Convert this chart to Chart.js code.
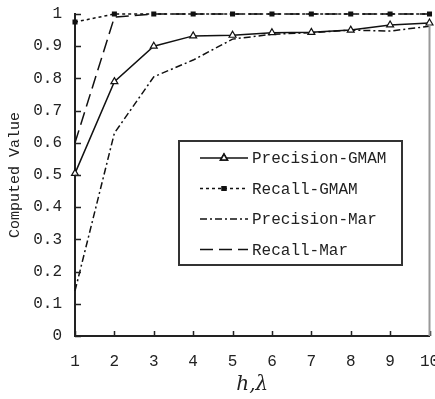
<!DOCTYPE html>
<html lang="en">

<head>
  <meta charset="UTF-8">
  <title> Computed Value </title>
  <style>
    body { margin: 0; background: #fff; }
    #grafico { display: block; }
  </style>
</head>

<body>
  <canvas id="grafico" width="435" height="399"></canvas>
  <script src="https://cdn.jsdelivr.net/npm/chart.js"></script>
  <script>

    // valores
    const xLabels = ['1', '2', '3', '4', '5', '6', '7', '8', '9', '10']
    const yTickLabels = ['0', '0.1', '0.2', '0.3', '0.4', '0.5', '0.6', '0.7', '0.8', '0.9', '1']
    const precisionGMAM = [0.505, 0.79, 0.90, 0.932, 0.934, 0.942, 0.943, 0.95, 0.966, 0.972]
    const recallGMAM = [0.975, 1, 1, 1, 1, 1, 1, 1, 1, 1]
    const precisionMar = [0.14, 0.63, 0.805, 0.857, 0.922, 0.937, 0.942, 0.95, 0.947, 0.962]
    const recallMar = [0.6, 0.99, 1, 1, 1, 1, 1, 1, 1, 1]

    const fonte = 'Liberation Mono'

    // ticks pra dentro + borda cinza da direita
    const ticksInternos = {
      id: 'ticksInternos',
      afterDraw(chart) {
        const { ctx, chartArea: a, scales: { x, y } } = chart
        ctx.save()
        ctx.strokeStyle = '#222'
        ctx.lineWidth = 1.5
        ctx.beginPath()
        y.ticks.forEach(function (t, i) {
          const py = Math.round(y.getPixelForTick(i)) + 0.5
          ctx.moveTo(a.left, py)
          ctx.lineTo(a.left + 6, py)
        })
        x.ticks.forEach(function (t, i) {
          const px = Math.round(x.getPixelForTick(i)) + 0.5
          ctx.moveTo(px, a.bottom)
          ctx.lineTo(px, a.bottom - 5)
        })
        ctx.stroke()
        ctx.strokeStyle = '#999'
        ctx.lineWidth = 2
        ctx.beginPath()
        ctx.moveTo(a.right, a.top + 10)
        ctx.lineTo(a.right, a.bottom)
        ctx.stroke()
        ctx.restore()
      }
    }

    // legenda dentro do grafico
    const legendaCaixa = {
      id: 'legendaCaixa',
      afterDraw(chart) {
        const { ctx, chartArea: a } = chart
        const x0 = a.left + 104
        const y0 = a.top + 127
        const w = 223
        const h = 124
        ctx.save()
        ctx.fillStyle = '#fff'
        ctx.fillRect(x0, y0, w, h)
        ctx.strokeStyle = '#333'
        ctx.lineWidth = 2
        ctx.strokeRect(x0, y0, w, h)
        chart.data.datasets.forEach(function (ds, i) {
          const ly = y0 + 17 + i * 30.5
          ctx.strokeStyle = ds.borderColor
          ctx.lineWidth = ds.borderWidth
          ctx.setLineDash(ds.borderDash || [])
          ctx.beginPath()
          ctx.moveTo(x0 + 21, ly)
          ctx.lineTo(x0 + 69, ly)
          ctx.stroke()
          ctx.setLineDash([])
          if (ds.pointRadius > 0) {
            Chart.helpers.drawPoint(ctx, {
              pointStyle: ds.pointStyle,
              radius: ds.pointRadius,
              borderWidth: 1.2,
              rotation: 0
            }, x0 + 45, ly)
            ctx.fillStyle = ds.pointBackgroundColor
            ctx.strokeStyle = ds.pointBorderColor
            ctx.fill()
            ctx.stroke()
          }
          ctx.fillStyle = '#222'
          ctx.font = '16px "' + fonte + '"'
          ctx.textAlign = 'left'
          ctx.textBaseline = 'middle'
          ctx.fillText(ds.label, x0 + 73, ly + 1)
        })
        ctx.restore()
      }
    }

    const ctx = document.getElementById('grafico')

    new Chart(ctx, {
      type: 'line',
      data: {
        labels: xLabels,
        datasets: [{
          label: 'Precision-GMAM',
          data: precisionGMAM,
          borderColor: '#111',
          borderWidth: 1.5,
          pointStyle: 'triangle',
          pointRadius: 4,
          pointBackgroundColor: '#fff',
          pointBorderColor: '#111',
          pointBorderWidth: 1.2,
          tension: 0,
          clip: false
        }, {
          label: 'Recall-GMAM',
          data: recallGMAM,
          borderColor: '#111',
          borderWidth: 1.5,
          borderDash: [3, 3],
          pointStyle: 'rect',
          pointRadius: 2.5,
          pointBackgroundColor: '#111',
          pointBorderColor: '#111',
          tension: 0,
          clip: false
        }, {
          label: 'Precision-Mar',
          data: precisionMar,
          borderColor: '#111',
          borderWidth: 1.5,
          borderDash: [7, 3, 2, 3],
          pointRadius: 0,
          tension: 0,
          clip: false
        }, {
          label: 'Recall-Mar',
          data: recallMar,
          borderColor: '#111',
          borderWidth: 1.5,
          borderDash: [13, 6],
          pointRadius: 0,
          tension: 0,
          clip: false
        }]
      },
      options: {
        responsive: false,
        animation: false,
        layout: {
          padding: { top: 14, right: 5, left: 0, bottom: 0 }
        },
        plugins: {
          legend: { display: false },
          tooltip: { enabled: false }
        },
        scales: {
          x: {
            type: 'category',
            offset: false,
            grid: { display: false, drawTicks: false },
            border: { display: true, color: '#222', width: 2 },
            ticks: {
              padding: 16,
              maxRotation: 0,
              autoSkip: false,
              color: '#222',
              font: { family: fonte, size: 16 }
            },
            title: {
              display: true,
              text: 'h,λ',
              color: '#222',
              font: { family: 'DejaVu Serif', style: 'italic', size: 20 },
              padding: { top: 0, bottom: 2 }
            },
            afterFit(s) {
              s.height = 63
              s.paddingLeft = 0
              s.paddingRight = 0
            }
          },
          y: {
            min: 0,
            max: 1,
            grid: { display: false, drawTicks: false },
            border: { display: true, color: '#222', width: 2 },
            ticks: {
              stepSize: 0.1,
              padding: 13,
              color: '#222',
              font: { family: fonte, size: 16 },
              callback: function (v, i) { return yTickLabels[i] }
            },
            title: {
              display: true,
              text: 'Computed Value',
              color: '#222',
              font: { family: fonte, size: 15 },
              padding: { top: 6, bottom: 0 }
            },
            afterFit(s) {
              s.width = 75
              s.paddingTop = 0
              s.paddingBottom = 0
            }
          }
        }
      },
      plugins: [ticksInternos, legendaCaixa]
    });

  </script>
</body>

</html>
